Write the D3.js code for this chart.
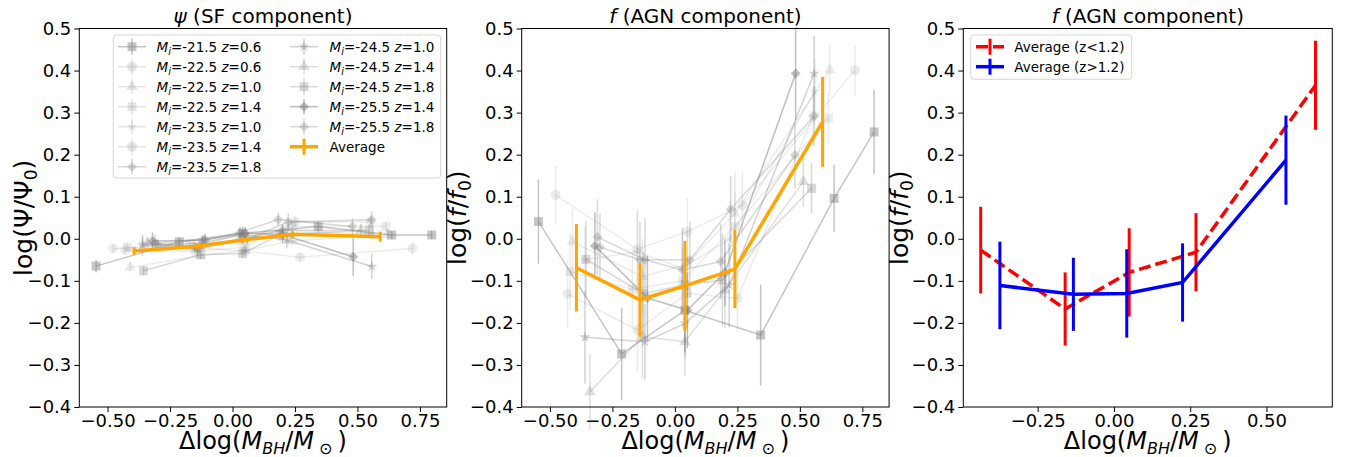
<!DOCTYPE html>
<html>
<head>
<meta charset="utf-8">
<script src="https://cdn.jsdelivr.net/npm/d3@7"></script>
<style>
  body { margin: 0; background: #fff; }
  svg { display: block; }
  text { font-family: "DejaVu Sans", sans-serif; fill: #000; }
</style>
</head>
<body>
<svg id="svg"></svg>
<script>
////////////////////////////////////////////////////////////////////////
// Data

// one entry per (M_i, z) sample
let sampleMag = ["-21.5", "-22.5", "-22.5", "-22.5", "-23.5", "-23.5", "-23.5",
                 "-24.5", "-24.5", "-24.5", "-25.5", "-25.5"];
let sampleZ   = ["0.6", "0.6", "1.0", "1.4", "1.0", "1.4", "1.8",
                 "1.0", "1.4", "1.8", "1.4", "1.8"];
let sampleMarker = ["square", "circle", "triangle", "square", "star", "circle", "diamond",
                    "star", "triangle", "square", "diamond", "diamond"];
let sampleAlpha = [0.45, 0.15, 0.15, 0.15, 0.15, 0.15, 0.3,
                   0.35, 0.25, 0.3, 0.5, 0.3];

// delta log M_BH of each bin, per sample
let sampleX = [
  [-0.546, -0.213, 0.040, 0.343, 0.637, 0.797],
  [-0.477, -0.150, 0.050, 0.270, 0.720],
  [-0.410, -0.130, 0.050, 0.240, 0.620],
  [-0.420, -0.170, 0.030, 0.240, 0.614],
  [-0.360, -0.150, 0.030, 0.220, 0.560],
  [-0.430, -0.150, 0.050, 0.250, 0.553],
  [-0.310, -0.120, 0.030, 0.183, 0.480],
  [-0.360, -0.120, 0.040, 0.217, 0.557],
  [-0.340, -0.130, 0.040, 0.200, 0.514],
  [-0.356, -0.127, 0.040, 0.190, 0.547],
  [-0.320, -0.110, 0.050, 0.200, 0.483],
  [-0.300, -0.140, 0.060, 0.223, 0.557]
];

// log(Psi/Psi0) per sample
let psiY = [
  [-0.065, -0.007, 0.013, 0.029, 0.009, 0.009],
  [-0.023, -0.020, -0.030, -0.044, -0.023],
  [-0.068, -0.040, -0.028, -0.005, 0.010],
  [-0.020, -0.015, -0.005, 0.030, 0.029],
  [-0.010, -0.020, 0.010, 0.020, 0.010],
  [-0.027, -0.030, -0.020, 0.041, 0.040],
  [-0.010, -0.003, 0.015, 0.046, 0.029],
  [-0.015, -0.010, 0.010, -0.003, -0.066],
  [-0.010, -0.020, 0.000, 0.020, 0.020],
  [-0.076, -0.038, -0.035, 0.010, 0.020],
  [-0.005, -0.003, 0.013, 0.010, -0.043],
  [-0.015, -0.025, 0.000, 0.040, 0.045]
];
let psiErr = [
  [0.015, 0.010, 0.012, 0.012, 0.010, 0.010],
  [0.010, 0.010, 0.010, 0.010, 0.015],
  [0.012, 0.010, 0.010, 0.010, 0.012],
  [0.010, 0.010, 0.010, 0.012, 0.012],
  [0.015, 0.012, 0.010, 0.012, 0.015],
  [0.010, 0.010, 0.012, 0.012, 0.015],
  [0.020, 0.012, 0.015, 0.015, 0.020],
  [0.025, 0.015, 0.020, 0.020, 0.030],
  [0.012, 0.012, 0.012, 0.015, 0.015],
  [0.012, 0.010, 0.012, 0.015, 0.015],
  [0.020, 0.015, 0.015, 0.020, 0.045],
  [0.015, 0.015, 0.015, 0.020, 0.020]
];

// log(f/f0) per sample
let fY = [
  [0.041, -0.274, -0.170, -0.229, 0.096, 0.254],
  [0.104, -0.025, 0.017, 0.080, 0.401],
  [-0.007, -0.090, -0.060, 0.060, 0.401],
  [-0.078, -0.120, -0.100, 0.030, 0.287],
  [-0.050, -0.031, -0.070, 0.000, 0.350],
  [-0.131, -0.217, -0.130, -0.142, 0.292],
  [0.004, -0.050, -0.074, -0.054, 0.199],
  [-0.234, -0.245, -0.201, -0.110, 0.393],
  [-0.364, -0.233, -0.245, -0.122, 0.136],
  [-0.049, -0.130, -0.110, -0.098, 0.120],
  [-0.017, -0.141, -0.170, -0.080, 0.393],
  [-0.020, -0.050, -0.050, 0.070, 0.292]
];
let fErr = [
  [0.100, 0.110, 0.100, 0.120, 0.080, 0.100],
  [0.070, 0.090, 0.080, 0.080, 0.060],
  [0.080, 0.090, 0.080, 0.100, 0.060],
  [0.090, 0.090, 0.080, 0.080, 0.060],
  [0.080, 0.100, 0.090, 0.090, 0.080],
  [0.080, 0.100, 0.090, 0.080, 0.070],
  [0.090, 0.100, 0.100, 0.090, 0.080],
  [0.110, 0.090, 0.080, 0.100, 0.090],
  [0.090, 0.100, 0.080, 0.090, 0.060],
  [0.090, 0.100, 0.090, 0.110, 0.060],
  [0.080, 0.100, 0.090, 0.080, 0.110],
  [0.080, 0.090, 0.090, 0.080, 0.070]
];

// averages over all samples
let avgX = [-0.394, -0.140, 0.040, 0.240, 0.591];
let avgPsi = [-0.029, -0.018, -0.003, 0.011, 0.005];
let avgPsiErr = [0.009, 0.006, 0.007, 0.007, 0.012];
let avgF = [-0.069, -0.145, -0.112, -0.072, 0.278];
let avgFErr = [0.104, 0.088, 0.107, 0.093, 0.107];

// averages split by redshift
let lowZX = [-0.437, -0.160, 0.050, 0.269, 0.661];
let lowZF = [-0.027, -0.167, -0.080, -0.032, 0.365];
let lowZErr = [0.103, 0.087, 0.105, 0.093, 0.106];
let highZX = [-0.374, -0.133, 0.042, 0.225, 0.564];
let highZF = [-0.111, -0.132, -0.130, -0.104, 0.187];
let highZErr = [0.104, 0.087, 0.105, 0.093, 0.106];

// ticks
let yTicks = [-0.4, -0.3, -0.2, -0.1, 0.0, 0.1, 0.2, 0.3, 0.4, 0.5];
let xTicksAll = [-0.5, -0.25, 0.0, 0.25, 0.5, 0.75];
let xTicksZ = [-0.25, 0.0, 0.25, 0.5];


////////////////////////////////////////////////////////////////////////
// Layout

let W = 1351, H = 457;
let plotTop = 28.5, plotBottom = 407;
let svg = d3.select("#svg").attr("width", W).attr("height", H);

let gray = "#808080";
let fmtY = v => d3.format(".1f")(v).replace("-", "\u2212");
let fmtX = v => d3.format(".2f")(v).replace("-", "\u2212");

function markerPath(kind) {
  if (kind == "square") return d3.symbol(d3.symbolSquare, 80)();
  if (kind == "circle") return d3.symbol(d3.symbolCircle, 78)();
  if (kind == "triangle") return d3.symbol(d3.symbolTriangle, 60)();
  if (kind == "star") return d3.symbol(d3.symbolStar, 40)();
  return d3.symbol(d3.symbolSquare, 50)();   // diamond = square turned 45 deg
}
function markerRot(kind) { return kind == "diamond" ? " rotate(45)" : ""; }

function makePanel(left, right, xDomain, xTicks) {
  let x = d3.scaleLinear().domain(xDomain).range([left, right]);
  let y = d3.scaleLinear().domain([-0.4, 0.5]).range([plotBottom, plotTop]);
  let g = svg.append("g");

  let ax = g.append("g").attr("transform", "translate(0," + plotBottom + ")")
    .call(d3.axisBottom(x).tickValues(xTicks).tickFormat(fmtX).tickSize(5).tickPadding(2));
  let ay = g.append("g").attr("transform", "translate(" + left + ",0)")
    .call(d3.axisLeft(y).tickValues(yTicks).tickFormat(fmtY).tickSize(5).tickPadding(3));
  [ax, ay].forEach(a => {
    a.select(".domain").remove();
    a.selectAll("text").style("font-size", "18px")
      .style("font-family", "'DejaVu Sans', sans-serif").attr("fill", "#000");
    a.selectAll("line").attr("stroke", "#000");
  });

  let plot = g.append("g");
  g.append("rect").attr("x", left).attr("y", plotTop)
    .attr("width", right - left).attr("height", plotBottom - plotTop)
    .attr("fill", "none").attr("stroke", "#000").attr("stroke-width", 1);

  return { g: g, plot: plot, x: x, y: y, cx: (left + right) / 2 };
}

function drawSeries(p, xs, ys, es, color, alpha, lw, elw, dash, marker) {
  let line = d3.line().x(d => p.x(d[0])).y(d => p.y(d[1]));
  let pts = xs.map((v, i) => [v, ys[i], es[i]]);
  p.plot.append("path").datum(pts).attr("d", line)
    .attr("fill", "none").attr("stroke", color).attr("stroke-width", lw)
    .attr("stroke-dasharray", dash).attr("opacity", alpha);
  p.plot.selectAll(null).data(pts).enter().append("line")
    .attr("x1", d => p.x(d[0])).attr("x2", d => p.x(d[0]))
    .attr("y1", d => p.y(d[1] - d[2])).attr("y2", d => p.y(d[1] + d[2]))
    .attr("stroke", color).attr("stroke-width", elw).attr("opacity", alpha);
  if (marker) {
    p.plot.selectAll(null).data(pts).enter().append("path")
      .attr("d", markerPath(marker))
      .attr("transform", d => "translate(" + p.x(d[0]) + "," + p.y(d[1]) + ")" + markerRot(marker))
      .attr("fill", color).attr("opacity", alpha);
  }
}

function title(p, sym, rest) {
  let t = p.g.append("text").attr("x", p.cx).attr("y", 23)
    .attr("text-anchor", "middle").style("font-size", "20px");
  t.append("tspan").attr("font-style", "italic").text(sym);
  t.append("tspan").text(rest);
}

function xLabel(p) {
  let t = p.g.append("text").attr("x", p.cx).attr("y", 449)
    .attr("text-anchor", "middle").style("font-size", "24px");
  t.append("tspan").text("\u0394log(");
  t.append("tspan").attr("font-style", "italic").text("M");
  t.append("tspan").attr("font-style", "italic").attr("dy", 5).style("font-size", "16px").text("BH");
  t.append("tspan").attr("dy", -5).text("/");
  t.append("tspan").attr("font-style", "italic").text("M");
  t.append("tspan").attr("dy", 5).style("font-size", "16px").text(" \u2299 ");
  t.append("tspan").attr("dy", -5).text(")");
}

function yLabel(p, xpos, psi) {
  let t = p.g.append("text").attr("transform", "translate(" + xpos + "," + ((plotTop + plotBottom) / 2) + ") rotate(-90)")
    .attr("text-anchor", "middle").style("font-size", "25px");
  t.append("tspan").text("log(");
  if (psi) {
    t.append("tspan").text("\u03A8/\u03A8");
  } else {
    t.append("tspan").attr("font-style", "italic").text("f");
    t.append("tspan").text("/");
    t.append("tspan").attr("font-style", "italic").text("f");
  }
  t.append("tspan").attr("dy", 5).style("font-size", "17px").text("0");
  t.append("tspan").attr("dy", -5).text(")");
}

////////////////////////////////////////////////////////////////////////
// Panels

let pA = makePanel(79.3, 446.7, [-0.613, 0.857], xTicksAll);
let pB = makePanel(521.7, 889.1, [-0.613, 0.857], xTicksAll);
let pC = makePanel(963.3, 1332.3, [-0.494, 0.716], xTicksZ);

for (let s = 0; s < sampleX.length; ++s) {
  drawSeries(pA, sampleX[s], psiY[s], psiErr[s], gray, sampleAlpha[s], 1.5, 1.5, null, sampleMarker[s]);
  drawSeries(pB, sampleX[s], fY[s], fErr[s], gray, sampleAlpha[s], 1.5, 1.5, null, sampleMarker[s]);
}
drawSeries(pA, avgX, avgPsi, avgPsiErr, "orange", 1, 3.5, 3, null, null);
drawSeries(pB, avgX, avgF, avgFErr, "orange", 1, 3.5, 3, null, null);

drawSeries(pC, lowZX, lowZF, lowZErr, "red", 1, 3.5, 3, "12,5", null);
drawSeries(pC, highZX, highZF, highZErr, "blue", 1, 3.5, 3, null, null);

title(pA, "\u03C8", " (SF component)");
title(pB, "f", " (AGN component)");
title(pC, "f", " (AGN component)");
[pA, pB, pC].forEach(xLabel);
yLabel(pA, 32, true);
yLabel(pB, 466, false);
yLabel(pC, 908, false);

////////////////////////////////////////////////////////////////////////
// Legends

function legendBox(g, x, y, w, h) {
  g.append("rect").attr("x", x).attr("y", y).attr("width", w).attr("height", h)
    .attr("rx", 3).attr("fill", "#fff").attr("fill-opacity", 0.8)
    .attr("stroke", "#d6d6d6").attr("stroke-width", 1);
}

function legendHandle(g, x0, yy, color, alpha, lw, elw, dash, marker) {
  let h = g.append("g");
  h.append("line").attr("x1", x0).attr("x2", x0 + 28).attr("y1", yy).attr("y2", yy)
    .attr("stroke", color).attr("stroke-width", lw).attr("stroke-dasharray", dash).attr("opacity", alpha);
  h.append("line").attr("x1", x0 + 14).attr("x2", x0 + 14).attr("y1", yy - 8).attr("y2", yy + 8)
    .attr("stroke", color).attr("stroke-width", elw).attr("opacity", alpha);
  if (marker) {
    h.append("path").attr("d", markerPath(marker))
      .attr("transform", "translate(" + (x0 + 14) + "," + yy + ")" + markerRot(marker))
      .attr("fill", color).attr("opacity", alpha);
  }
}

let legA = pA.g.append("g");
legendBox(legA, 113.3, 35, 327.4, 143);
let nRows = 7;
for (let s = 0; s <= sampleX.length; ++s) {
  let col = Math.floor(s / nRows), row = s % nRows;
  let hx = col == 0 ? 118 : 290;
  let tx = col == 0 ? 156.5 : 329.5;
  let yy = 46.7 + row * 20;
  if (s < sampleX.length) {
    legendHandle(legA, hx, yy, gray, Math.max(sampleAlpha[s], 0.2), 1.5, 1.5, null, sampleMarker[s]);
    let t = legA.append("text").attr("x", tx).attr("y", yy + 5).style("font-size", "13.5px");
    t.append("tspan").attr("font-style", "italic").text("M");
    t.append("tspan").attr("font-style", "italic").attr("dy", 3).style("font-size", "10px").text("i");
    t.append("tspan").attr("dy", -3).text("=" + sampleMag[s] + " ");
    t.append("tspan").attr("font-style", "italic").text("z");
    t.append("tspan").text("=" + sampleZ[s]);
  } else {
    legendHandle(legA, hx, yy, "orange", 1, 3.5, 3, null, null);
    legA.append("text").attr("x", tx).attr("y", yy + 5).style("font-size", "13.5px").text("Average");
  }
}

let legC = pC.g.append("g");
legendBox(legC, 970.7, 35, 161, 44.3);
legendHandle(legC, 976, 46.7, "red", 1, 3.5, 3, "12,5", null);
legC.append("text").attr("x", 1014.3).attr("y", 51.7).style("font-size", "13.5px").text("Average (z<1.2)");
legendHandle(legC, 976, 66.7, "blue", 1, 3.5, 3, null, null);
legC.append("text").attr("x", 1014.3).attr("y", 71.7).style("font-size", "13.5px").text("Average (z>1.2)");
</script>
</body>
</html>
